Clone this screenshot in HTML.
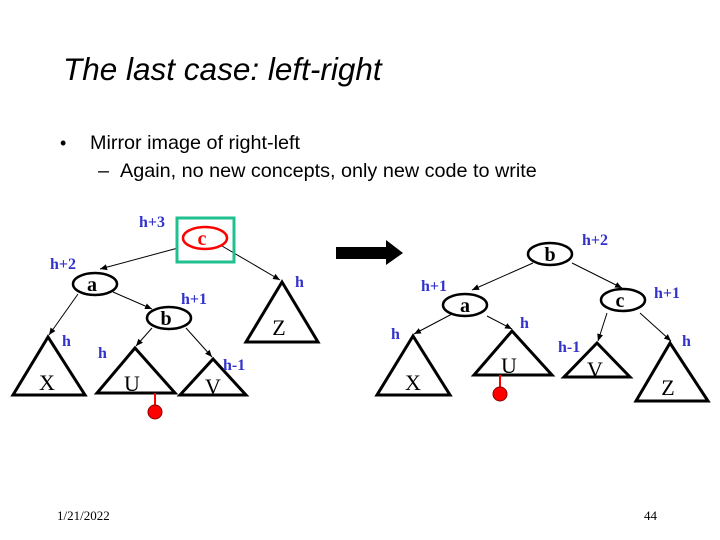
<!DOCTYPE html>
<html><head><style>
body{margin:0;background:#fff;}
svg{display:block;}
</style></head><body>
<svg width="720" height="540" viewBox="0 0 720 540" xmlns="http://www.w3.org/2000/svg">
<defs>
<marker id="ar" markerWidth="8" markerHeight="8" refX="7" refY="4" orient="auto" markerUnits="userSpaceOnUse">
<path d="M0,1 L7,4 L0,7 z" fill="#000"/>
</marker>
</defs>
<g font-family="Liberation Sans, sans-serif">
<text x="63" y="80" font-size="31.5" font-style="italic">The last case: left-right</text>
<text x="60" y="149" font-size="18">•</text>
<text x="90" y="149" font-size="19.8">Mirror image of right-left</text>
<text x="98" y="177" font-size="19.8">–</text>
<text x="120" y="177" font-size="19.8">Again, no new concepts, only new code to write</text>
</g>
<g font-family="Liberation Serif, serif" font-size="13">
<text x="57" y="520">1/21/2022</text>
<text x="644" y="520">44</text>
</g>

<!-- left tree -->
<g stroke="#000" stroke-width="1" fill="none" marker-end="url(#ar)">
<line x1="178" y1="248" x2="100" y2="269"/>
<line x1="222" y1="246" x2="280" y2="280"/>
<line x1="78" y1="294" x2="49" y2="335"/>
<line x1="113" y1="292" x2="152" y2="309"/>
<line x1="152" y1="328" x2="136" y2="346"/>
<line x1="186" y1="328" x2="212" y2="357"/>
</g>
<rect x="177" y="218" width="57" height="44" fill="none" stroke="#20c090" stroke-width="3"/>
<ellipse cx="205" cy="238" rx="22" ry="11" fill="#fff" stroke="#f00" stroke-width="2.5"/>
<ellipse cx="95" cy="284" rx="22" ry="11" fill="#fff" stroke="#000" stroke-width="2.5"/>
<ellipse cx="169" cy="318" rx="22" ry="11" fill="#fff" stroke="#000" stroke-width="2.5"/>
<g fill="none" stroke="#000" stroke-width="3">
<polygon points="48,337 13,395 85,395"/>
<polygon points="135,348 97,393 175,393"/>
<polygon points="213,359 180,395 246,395"/>
<polygon points="282,282 246,342 318,342"/>
</g>
<line x1="155" y1="393" x2="155" y2="406" stroke="#f00" stroke-width="2"/>
<circle cx="155" cy="412" r="7" fill="#f00" stroke="#800" stroke-width="1"/>

<!-- right tree -->
<polygon points="336,247 386,247 386,240 403,253 386,265 386,259 336,259" fill="#000"/>
<g stroke="#000" stroke-width="1" fill="none" marker-end="url(#ar)">
<line x1="533" y1="263" x2="472" y2="290"/>
<line x1="572" y1="263" x2="622" y2="288"/>
<line x1="452" y1="314" x2="414" y2="334"/>
<line x1="487" y1="316" x2="512" y2="329"/>
<line x1="607" y1="313" x2="598" y2="341"/>
<line x1="640" y1="313" x2="671" y2="341"/>
</g>
<ellipse cx="550" cy="254" rx="22" ry="11" fill="#fff" stroke="#000" stroke-width="2.5"/>
<ellipse cx="465" cy="305" rx="22" ry="11" fill="#fff" stroke="#000" stroke-width="2.5"/>
<ellipse cx="623" cy="300" rx="22" ry="11" fill="#fff" stroke="#000" stroke-width="2.5"/>
<g fill="none" stroke="#000" stroke-width="3">
<polygon points="413,336 377,395 450,395"/>
<polygon points="512,331 474,375 552,375"/>
<polygon points="597,343 564,377 630,377"/>
<polygon points="670,343 636,401 708,401"/>
</g>
<line x1="500" y1="375" x2="500" y2="388" stroke="#f00" stroke-width="2"/>
<circle cx="500" cy="394" r="7" fill="#f00" stroke="#800" stroke-width="1"/>

<!-- node letters -->
<g font-family="Liberation Serif, serif" font-size="20" font-weight="bold" text-anchor="middle">
<text x="202" y="245" fill="#f00">c</text>
<text x="92" y="291">a</text>
<text x="166" y="325">b</text>
<text x="550" y="261">b</text>
<text x="465" y="312">a</text>
<text x="620" y="307">c</text>
</g>
<g font-family="Liberation Serif, serif" font-size="22" text-anchor="middle">
<text x="47" y="390">X</text>
<text x="132" y="391">U</text>
<text x="213" y="394">V</text>
<text x="279" y="335">Z</text>
<text x="413" y="390">X</text>
<text x="509" y="373">U</text>
<text x="595" y="377">V</text>
<text x="668" y="395">Z</text>
</g>
<!-- height labels -->
<g font-family="Liberation Serif, serif" font-size="16" font-weight="bold" fill="#3333cc">
<text x="139" y="227">h+3</text>
<text x="50" y="269">h+2</text>
<text x="181" y="304">h+1</text>
<text x="295" y="287">h</text>
<text x="62" y="346">h</text>
<text x="98" y="358">h</text>
<text x="223" y="370">h-1</text>
<text x="582" y="245">h+2</text>
<text x="421" y="291">h+1</text>
<text x="654" y="298">h+1</text>
<text x="391" y="339">h</text>
<text x="520" y="328">h</text>
<text x="558" y="352">h-1</text>
<text x="682" y="346">h</text>
</g>
</svg>
</body></html>
